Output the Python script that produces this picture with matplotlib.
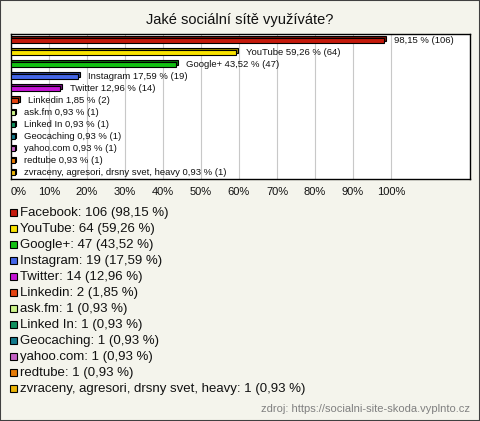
# Jaké sociální sítě využíváte? - horizontal bar chart with manual legend
import matplotlib.pyplot as plt
from matplotlib.patches import Rectangle
import matplotlib.colors as mcolors

plt.rcParams['font.family'] = ['Liberation Sans', 'DejaVu Sans']

# data
names = ['Facebook', 'YouTube', 'Google+', 'Instagram', 'Twitter', 'Linkedin',
         'ask.fm', 'Linked In', 'Geocaching', 'yahoo.com', 'redtube',
         'zvraceny, agresori, drsny svet, heavy']
counts = [106, 64, 47, 19, 14, 2, 1, 1, 1, 1, 1, 1]
percents = [98.15, 59.26, 43.52, 17.59, 12.96, 1.85, 0.93, 0.93, 0.93, 0.93, 0.93, 0.93]
colors = ['#c41a0c', '#f8e200', '#12c012', '#4466e8', '#c414d4', '#e44412',
          '#ccf48a', '#10905e', '#147a8c', '#c462c4', '#e47a06', '#eab406']
tick_vals = [0, 10, 20, 30, 40, 50, 60, 70, 80, 90, 100]

W, H = 480, 421
bg = '#f4f4ec'

fig = plt.figure(figsize=(W / 100, H / 100), dpi=100, facecolor=bg)

def fx(px):
    return px / W

def fy(py):
    return 1 - py / H

# figure border
fig.patches.append(Rectangle((0, 0), 1, 1, transform=fig.transFigure,
                             fill=False, edgecolor='#404040', lw=1.5))

fig.text(0.5, fy(20), 'Jaké sociální sítě využíváte?', ha='center', va='center',
         fontsize=10.5, color='#111111')

ax = fig.add_axes([fx(11), fy(179), fx(470) - fx(11), fy(34) - fy(179)])
ax.set_facecolor('white')
ax.set_xlim(0, 120.8)
ax.set_ylim(len(names) - 0.5, -0.5)

for v in tick_vals[1:]:
    ax.axvline(v, color='#c8c8c8', lw=0.8, zorder=0)

ys = list(range(len(names)))
dark = [tuple(c * 0.6 for c in mcolors.to_rgb(col)) for col in colors]
# back face (3D depth) and front face
ax.barh([y - 0.12 for y in ys], [p + 0.45 for p in percents], height=0.42,
        color=dark, edgecolor='black', lw=0.8, zorder=2)
ax.barh(ys, percents, height=0.42, color=colors, edgecolor='black', lw=0.8, zorder=3)

for i, (n, c, p) in enumerate(zip(names, counts, percents)):
    pct = f'{p:.2f}'.replace('.', ',')
    lab = f'{pct} % ({c})' if i == 0 else f'{n} {pct} % ({c})'
    ax.annotate(lab, (p, i), xytext=(7, 0), textcoords='offset points',
                ha='left', va='center', fontsize=6.8, color='#111111', zorder=4)

ax.set_yticks([])
ax.set_xticks(tick_vals)
ax.set_xticklabels([f'{v}%' for v in tick_vals], fontsize=8, color='#111111')
ax.tick_params(axis='x', length=0, pad=6)
ax.get_xticklabels()[0].set_horizontalalignment('left')
for s in ax.spines.values():
    s.set_color('black')
    s.set_linewidth(1)

# legend
for i, (n, c, p, col) in enumerate(zip(names, counts, percents, colors)):
    base = 215.7 + 16 * i
    fig.patches.append(Rectangle((fx(9.5), fy(base)), fx(7), fy(base - 6.8) - fy(base),
                                 transform=fig.transFigure, facecolor=col,
                                 edgecolor='black', lw=0.8))
    pct = f'{p:.2f}'.replace('.', ',')
    fig.text(fx(20), fy(base), f'{n}: {c} ({pct} %)', ha='left', va='baseline',
             fontsize=9.5, color='#111111')

fig.text(fx(470), fy(409), 'zdroj: https://socialni-site-skoda.vyplnto.cz',
         ha='right', va='center', fontsize=8, color='#808080')

fig.savefig('out.png', dpi=100, facecolor=bg)
